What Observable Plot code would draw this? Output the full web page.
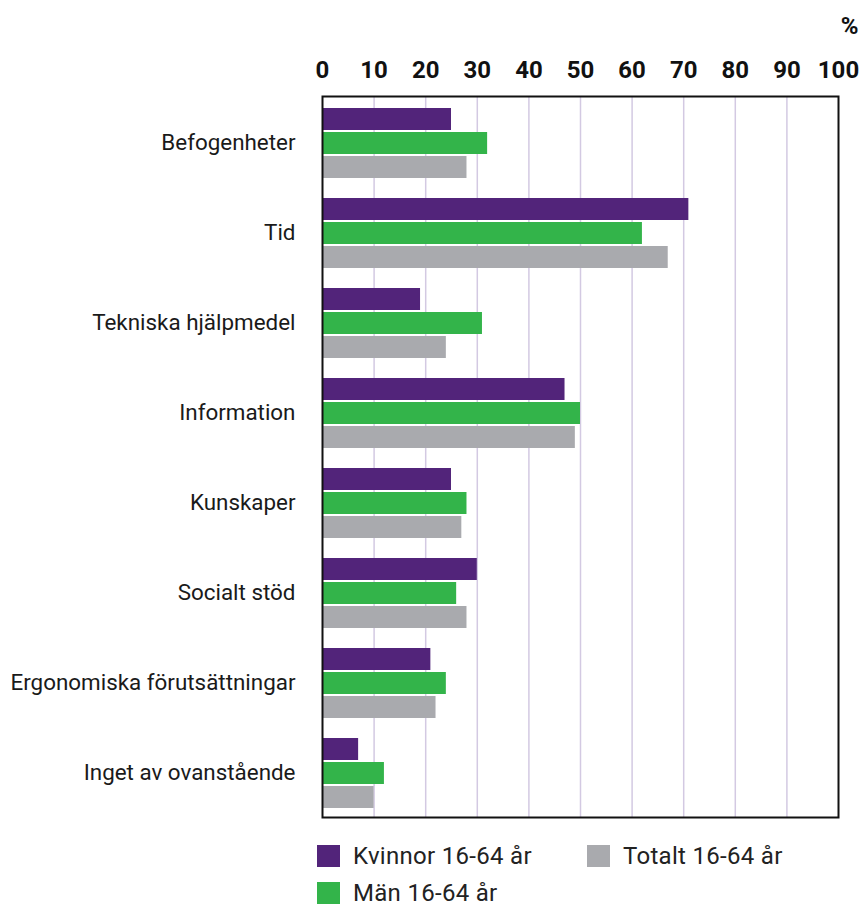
<!DOCTYPE html>
<html>
<head>
<meta charset="utf-8">
<script src="https://cdn.jsdelivr.net/npm/d3@7"></script>
<script src="https://cdn.jsdelivr.net/npm/@observablehq/plot@0.6"></script>
<style>
  html, body { margin: 0; padding: 0; background: #fff; }
  #wrap { position: relative; width: 861px; height: 906px; overflow: hidden; }
  .legend { position: absolute; font-family: Roboto, "Noto Sans", sans-serif; font-size: 24px; line-height: 22px; color: #222; letter-spacing: 0.3px; }
  .legend .item { position: absolute; white-space: nowrap; display: flex; align-items: center; }
  .legend .sw { width: 23px; height: 22px; margin-right: 13px; }
</style>
</head>
<body>
<div id="wrap"></div>
<script>
const categories = ["Befogenheter", "Tid", "Tekniska hjälpmedel", "Information", "Kunskaper", "Socialt stöd", "Ergonomiska förutsättningar", "Inget av ovanstående"];
const series = ["Kvinnor 16-64 år", "Män 16-64 år", "Totalt 16-64 år"];
const kvinnor = [25, 71, 19, 47, 25, 30, 21, 7];
const man = [32, 62, 31, 50, 28, 26, 24, 12];
const totalt = [28, 67, 24, 49, 27, 28, 22, 10];
const xTicks = [0, 10, 20, 30, 40, 50, 60, 70, 80, 90, 100];
const colors = ["#52247a", "#33b44a", "#a9aaae"];

const rows = (vals, s) => categories.map((c, i) => ({category: c, series: s, value: vals[i]}));
const dK = rows(kvinnor, series[0]);
const dM = rows(man, series[1]);
const dT = rows(totalt, series[2]);

const font = "Roboto, 'Noto Sans', sans-serif";

const chart = Plot.plot({
  width: 861,
  height: 830,
  marginLeft: 322,
  marginRight: 23,
  marginTop: 96,
  marginBottom: 13,
  style: {fontFamily: font, fontSize: "22.4px", color: "#1a1a1a", background: "#fff"},
  x: {domain: [0, 100], ticks: xTicks, axis: "top", tickSize: 0, tickPadding: 19, label: null},
  y: {domain: categories, padding: 0, tickSize: 0, tickPadding: 27, label: null},
  color: {domain: series, range: colors},
  marks: [
    Plot.ruleX(xTicks.slice(1, -1), {stroke: "#d3c9e2", strokeWidth: 1.5}),
    Plot.barX(dK, {x: "value", y: "category", fill: "series", insetTop: 11, insetBottom: 57}),
    Plot.barX(dM, {x: "value", y: "category", fill: "series", insetTop: 35, insetBottom: 33}),
    Plot.barX(dT, {x: "value", y: "category", fill: "series", insetTop: 59, insetBottom: 9}),
    Plot.frame({stroke: "#111", strokeWidth: 2}),
    Plot.text(["%"], {frameAnchor: "top-right", dx: 20, dy: -80, text: d => d, fontSize: 24, fontWeight: "bold", fill: "#111", textAnchor: "end"})
  ]
});

// bold x tick labels
d3.select(chart).selectAll("g[aria-label='x-axis tick label'] text, g[aria-label='x-axis tick label']")
  .attr("font-weight", "bold").attr("font-size", 24).attr("fill", "#111");

document.getElementById("wrap").appendChild(chart);

// legend
const leg = document.createElement("div");
leg.className = "legend";
leg.style.left = "0px"; leg.style.top = "0px";
const pos = [[317, 845], [317, 882], [587, 845]];
series.forEach((s, i) => {
  const it = document.createElement("div");
  it.className = "item";
  it.style.left = pos[i][0] + "px";
  it.style.top = pos[i][1] + "px";
  it.style.height = "22px";
  const sw = document.createElement("div");
  sw.className = "sw";
  sw.style.background = colors[i];
  const tx = document.createElement("span");
  tx.textContent = s;
  it.appendChild(sw); it.appendChild(tx);
  leg.appendChild(it);
});
document.getElementById("wrap").appendChild(leg);
</script>
</body>
</html>
